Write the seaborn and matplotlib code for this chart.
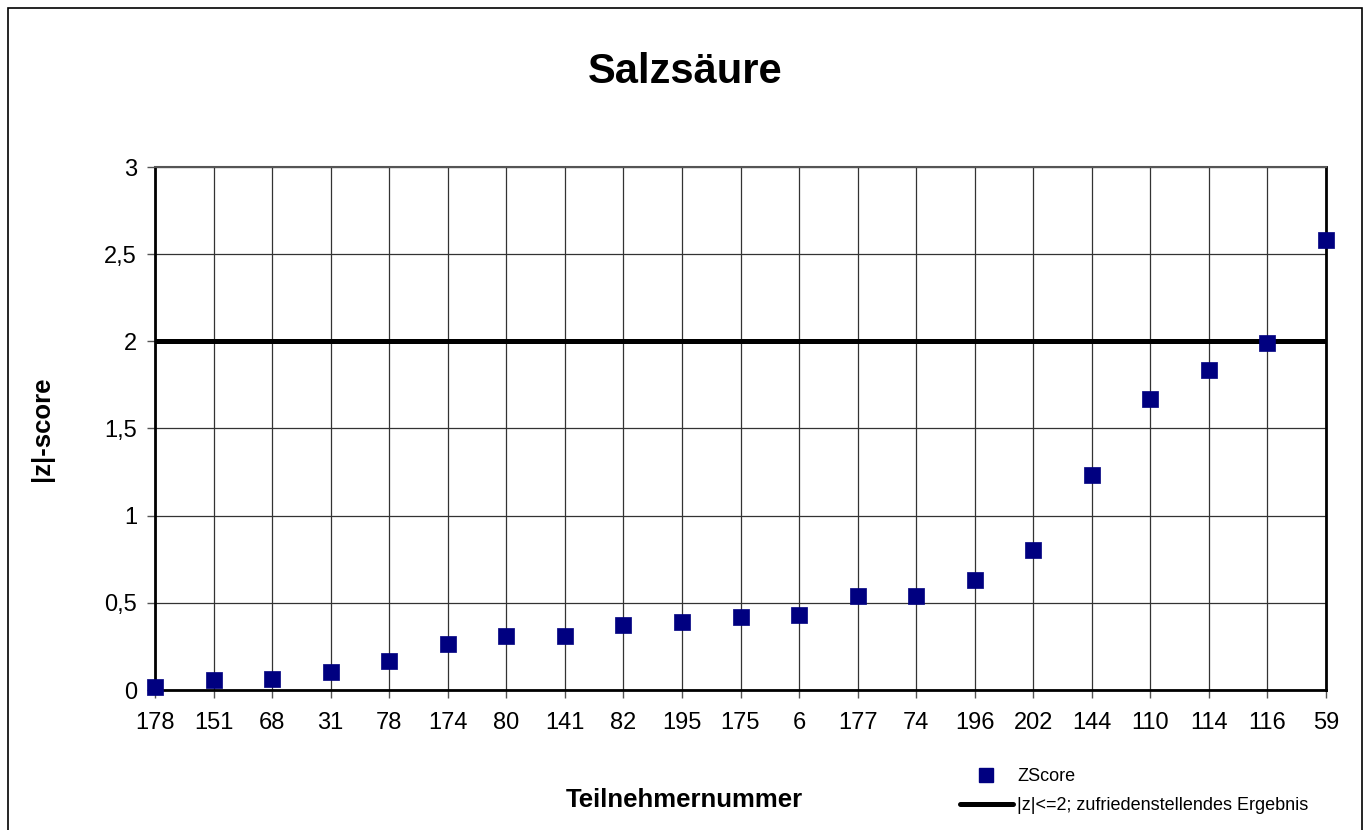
import numpy as np
import pandas as pd

import matplotlib.pyplot as plt
from matplotlib.patches import Rectangle
from matplotlib.lines import Line2D
import seaborn as sns

# ======================================================
# DATA
# ======================================================

participants = ["178", "151", "68", "31", "78", "174", "80", "141", "82", "195",
                "175", "6", "177", "74", "196", "202", "144", "110", "114", "116", "59"]

z_scores = [0.016, 0.057, 0.061, 0.102, 0.166, 0.266, 0.307, 0.309, 0.374, 0.390,
            0.421, 0.433, 0.540, 0.542, 0.629, 0.803, 1.234, 1.670, 1.833, 1.989, 2.583]

threshold = 2

y_ticks = [0, 0.5, 1, 1.5, 2, 2.5, 3]
y_tick_labels = ["0", "0,5", "1", "1,5", "2", "2,5", "3"]

# ======================================================
# CONFIGURATION
# ======================================================

sns.set_theme(style="white")
plt.rcParams["font.family"] = ["Liberation Sans", "DejaVu Sans"]
plt.rcParams["text.color"] = "black"
plt.rcParams["axes.labelcolor"] = "black"
plt.rcParams["xtick.color"] = "black"
plt.rcParams["ytick.color"] = "black"

df = pd.DataFrame({
    "pos": np.arange(len(participants)),
    "Teilnehmer": participants,
    "z": z_scores,
})

fig = plt.figure(figsize=(13.71, 8.30), dpi=100)
ax = fig.add_axes([155 / 1371, 1 - 690 / 830, (1326 - 155) / 1371, (690 - 167) / 830])

# outer border of the chart area
fig.patches.append(Rectangle((8 / 1371, -0.01), (1362 - 8) / 1371, 1.01 - 8 / 830,
                             transform=fig.transFigure, fill=False,
                             edgecolor="black", linewidth=1.2))

# ======================================================
# PLOT
# ======================================================

ax.axhline(threshold, color="black", linewidth=3.6, zorder=3)

sns.scatterplot(
    data=df,
    x="pos",
    y="z",
    marker="s",
    s=120,
    color="#000080",
    edgecolor="#000080",
    linewidth=0.5,
    zorder=4,
    clip_on=False,
    ax=ax,
    legend=False,
)

ax.set_xlim(0, len(participants) - 1)
ax.set_ylim(0, 3)

ax.set_xticks(df["pos"])
ax.set_xticklabels(participants, fontsize=17)
ax.set_yticks(y_ticks)
ax.set_yticklabels(y_tick_labels, fontsize=17)

ax.grid(True, color="#333333", linewidth=0.9)
ax.set_axisbelow(True)

ax.tick_params(axis="both", which="major", direction="out", length=6,
               width=1, color="#555555", bottom=True, left=True)
ax.tick_params(axis="x", pad=10)
ax.tick_params(axis="y", pad=7)

for side in ["left", "bottom", "right"]:
    ax.spines[side].set_color("black")
    ax.spines[side].set_linewidth(2)
ax.spines["top"].set_color("#555555")
ax.spines["top"].set_linewidth(1.5)

ax.set_xlabel("")
ax.set_ylabel("|z|-score", fontsize=18.5, fontweight="bold", labelpad=36)

fig.text(684 / 1371, 1 - 800 / 830, "Teilnehmernummer", fontsize=18.5,
         fontweight="bold", ha="center", va="center")

fig.suptitle("Salzsäure", fontsize=30, fontweight="bold", y=1 - 72 / 830, va="center")

# ======================================================
# LEGEND
# ======================================================

handles = [
    Line2D([], [], marker="s", linestyle="none", color="#000080", markersize=10),
    Line2D([], [], color="black", linewidth=3.6),
]
labels = ["ZScore", "|z|<=2; zufriedenstellendes Ergebnis"]

fig.legend(
    handles,
    labels,
    loc="upper left",
    bbox_to_anchor=(944 / 1371, 1 - 752 / 830),
    frameon=False,
    fontsize=13,
    handlelength=2.9,
    handletextpad=0.25,
    labelspacing=0.65,
)

plt.savefig("out.png", dpi=100)
plt.close()
